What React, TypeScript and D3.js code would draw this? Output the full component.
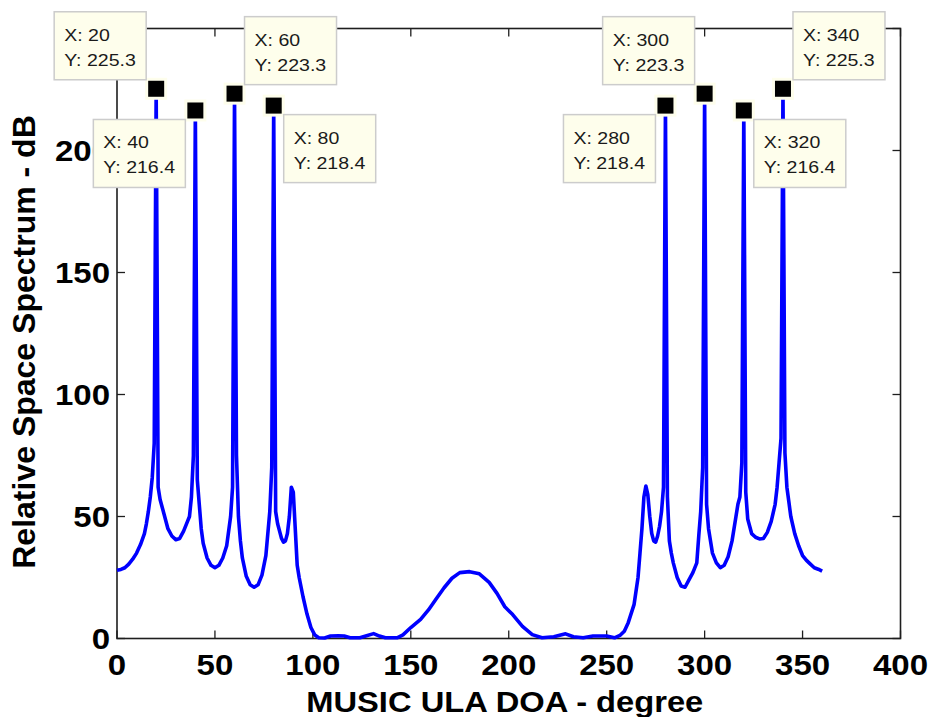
import React from "react";
import * as d3 from "d3";

// DOA angle (degree) and relative spatial spectrum (dB)
const doaDeg = [
  0, 2, 4, 6, 8, 10, 12, 14, 15, 16, 17, 18, 19, 20, 21, 22, 23, 24, 26, 28, 30, 32, 34, 36, 37, 38, 39, 40,
  41, 42, 43, 44, 46, 48, 50, 52, 54, 56, 58, 59, 60, 61, 62, 63, 64, 66, 68, 70, 72, 74, 76, 78, 79, 80,
  81, 82, 83, 84, 85, 86, 87, 88, 89, 90, 91, 92, 93, 95, 97, 99, 101, 103, 106, 109, 113, 116, 119, 124,
  127, 131, 134, 137, 143, 146, 150, 155, 159, 163, 167, 171, 175, 180, 185, 190, 194, 198, 202, 207, 212,
  217, 223, 229, 233, 238, 243, 250, 254, 257, 259, 261, 264, 266, 267, 268, 269, 270, 271, 272, 273, 274,
  275, 276, 277, 278, 279, 280, 281, 282, 283, 284, 286, 288, 290, 292, 294, 296, 297, 298, 299, 300, 301,
  302, 304, 306, 308, 310, 312, 314, 316, 317, 318, 319, 320, 321, 322, 323, 324, 326, 328, 330, 332, 334,
  336, 337, 338, 339, 340, 341, 342, 343, 344, 346, 348, 350, 352, 354, 356, 358, 360,
];
const spectrumDb = [
  28.0, 28.3, 29, 30.5, 32.5, 35, 38.5, 43, 47, 52, 58, 66, 80, 225.3, 62, 57, 54, 51, 45, 42, 40.5, 41, 44, 48, 50, 58, 75, 216.4,
  65, 55, 45, 39, 33, 30, 29, 30, 33, 38, 50, 62, 223.3, 75, 50, 40, 33, 25.5, 22, 21, 22, 26, 34, 52, 70, 218.4,
  52, 47, 44, 41, 39.5, 40, 43, 50, 62, 60, 45, 30, 25, 17, 10, 4.5, 1.4, 0.3, 0.2, 1.0, 1.1, 1.0, 0.3, 0.3,
  1.0, 2.0, 1.0, 0.3, 0.3, 1.5, 4.5, 7.8, 11.7, 16.3, 20.8, 24.7, 27, 27.4, 26.5, 23, 18.5, 13, 9.8, 5, 1.6,
  0.3, 0.7, 1.9, 0.7, 0.3, 1.0, 1.0, 0.3, 1.4, 3, 6.5, 14, 25, 35, 45, 58, 62.5, 59, 50, 43, 40,
  39.5, 42, 46, 52, 62, 218.4, 58, 40, 35, 31, 25, 21.5, 21, 24, 27, 31, 42, 52, 70, 223.3, 55,
  45, 35, 31, 29, 30, 33.5, 40, 50, 55, 58, 72, 216.4, 60, 49, 46, 43, 41.5, 40.8, 41, 43.5, 48,
  55, 62, 72, 82, 225.3, 76, 62, 56, 50, 43, 38, 34, 32, 30.5, 29, 28.4, 27.6,
];

const xTicks = [0, 50, 100, 150, 200, 250, 300, 350, 400];
const yTicks = [0, 50, 100, 150, 200, 250];

// data tips
const tipX = [20, 40, 60, 80, 280, 300, 320, 340];
const tipY = [225.3, 216.4, 223.3, 218.4, 218.4, 223.3, 216.4, 225.3];
const tipCorner = ["nw", "sw", "ne", "se", "sw", "nw", "se", "ne"];

const xLabel = "MUSIC ULA DOA - degree";
const yLabel = "Relative Space Spectrum - dB";

const W = 930;
const H = 717;
const FONT = "'Liberation Sans', Arial, Helvetica, sans-serif";

export default function App() {
  const x = d3.scaleLinear().domain([0, 400]).range([117, 900.5]);
  const y = d3.scaleLinear().domain([0, 250]).range([638.5, 28.5]);
  const [x0, x1] = x.range();
  const [y0, y1] = y.range();

  const pts: [number, number][] = doaDeg.map((d, i) => [d, spectrumDb[i]]);
  const line = d3
    .line<[number, number]>()
    .x((d) => x(d[0]))
    .y((d) => y(d[1]))
    .curve(d3.curveLinear);

  const tickLen = 8;
  const boxW = 92;
  const boxH = 68;
  const gapX = 10;
  const gapY = 9;
  const tickStroke = "#1e1e1e";

  return (
    <svg
      width={W}
      height={H}
      style={{ position: "absolute", left: 0, top: 0, background: "#fff" }}
      fontFamily={FONT}
    >
      <rect x={0} y={0} width={W} height={H} fill="#fff" />
      {/* axes box */}
      <rect x={x0} y={y1} width={x1 - x0} height={y0 - y1} fill="none" stroke={tickStroke} strokeWidth={1.6} />
      {/* x ticks (bottom + top) */}
      {xTicks.map((t) => (
        <g key={"xt" + t}>
          <line x1={x(t)} x2={x(t)} y1={y0} y2={y0 - tickLen} stroke={tickStroke} strokeWidth={1.3} />
          <line x1={x(t)} x2={x(t)} y1={y1} y2={y1 + tickLen} stroke={tickStroke} strokeWidth={1.3} />
        </g>
      ))}
      {yTicks.map((t) => (
        <g key={"yt" + t}>
          <line x1={x0} x2={x0 + tickLen} y1={y(t)} y2={y(t)} stroke={tickStroke} strokeWidth={1.3} />
          <line x1={x1} x2={x1 - tickLen} y1={y(t)} y2={y(t)} stroke={tickStroke} strokeWidth={1.3} />
        </g>
      ))}

      {/* data line */}
      <path d={line(pts) || ""} fill="none" stroke="#0000ff" strokeWidth={3.6} strokeLinejoin="round" />

      {/* tick labels */}
      {xTicks.map((t) => (
        <text
          key={"xl" + t}
          transform={`translate(${x(t)},${y0 + 36.5}) scale(1.1,1)`}
          textAnchor="middle"
          fontSize={30}
          fontWeight="bold"
          fill="#000"
        >
          {t}
        </text>
      ))}
      {yTicks.map((t) => (
        <text
          key={"yl" + t}
          transform={`translate(${x0 - 7},${y(t) + 10.5}) scale(1.1,1)`}
          textAnchor="end"
          fontSize={30}
          fontWeight="bold"
          fill="#000"
        >
          {t}
        </text>
      ))}

      {/* axis titles */}
      <text
        transform={`translate(${(x0 + x1) / 2 - 4},711.5) scale(1.09,1)`}
        textAnchor="middle"
        fontSize={30}
        fontWeight="bold"
        fill="#000"
      >
        {xLabel}
      </text>
      <text
        transform={`translate(35,342) rotate(-90)`}
        textAnchor="middle"
        fontSize={32}
        fontWeight="bold"
        fill="#000"
      >
        {yLabel}
      </text>

      {/* data tips */}
      {tipX.map((tx, i) => {
        const mx = x(tx);
        const my = y(tipY[i]);
        const c = tipCorner[i];
        const bx = c.includes("w") ? mx - gapX - boxW : mx + gapX;
        const by = c.includes("n") ? my - gapY - boxH : my + gapY;
        return (
          <g key={"tip" + tx}>
            <rect x={mx - 11} y={my - 11} width={22} height={22} fill="#fefeec" />
            <rect x={mx - 8} y={my - 8} width={16} height={16} fill="#000" />
            <rect x={bx} y={by} width={boxW} height={boxH} fill="#fefeec" stroke="#cccccc" strokeWidth={1.5} />
            <text transform={`translate(${bx + 10},${by + 29}) scale(1.15,1)`} fontSize={17} fill="#1a1a1a">
              {`X: ${tx}`}
            </text>
            <text transform={`translate(${bx + 10},${by + 54}) scale(1.15,1)`} fontSize={17} fill="#1a1a1a">
              {`Y: ${tipY[i].toFixed(1)}`}
            </text>
          </g>
        );
      })}
    </svg>
  );
}
